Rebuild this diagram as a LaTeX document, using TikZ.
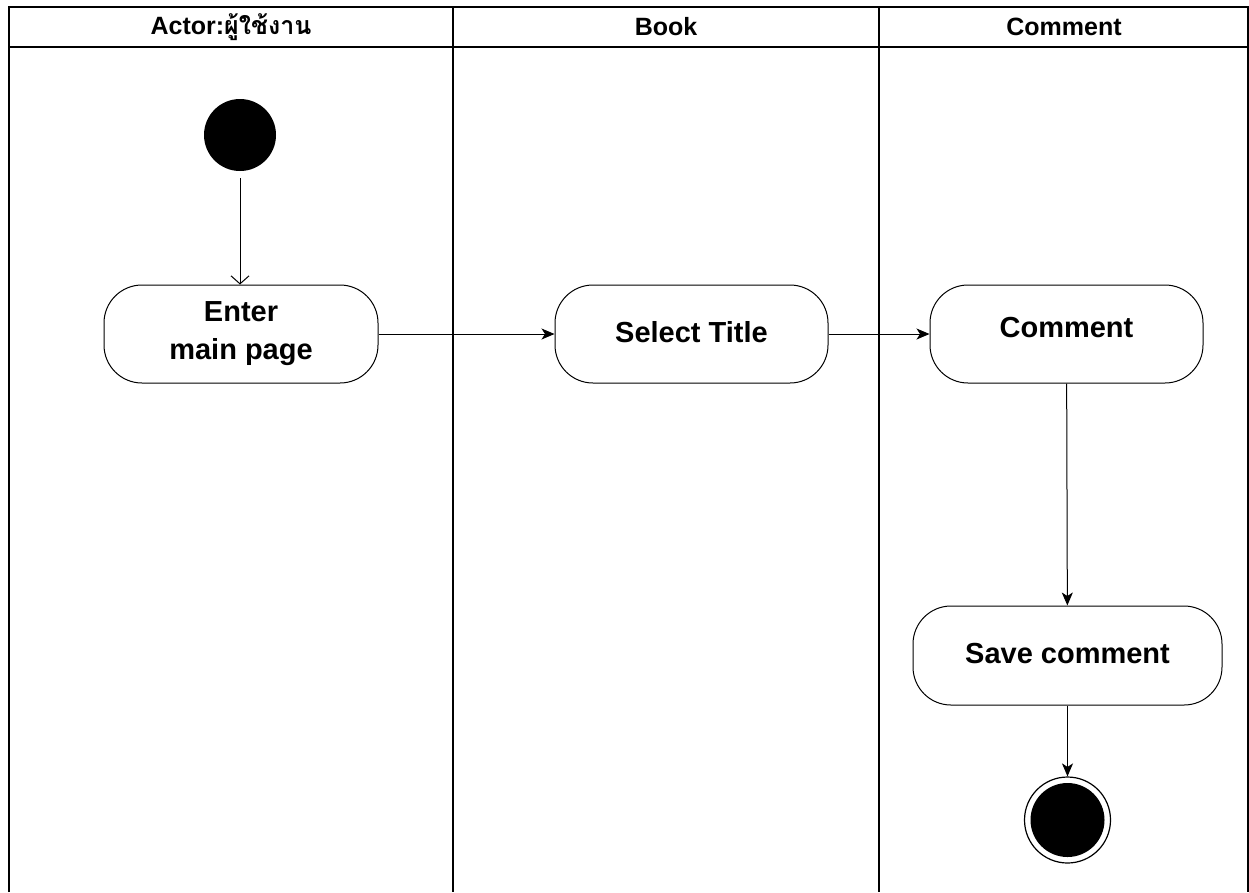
\documentclass[tikz,border=0pt]{standalone}
\usepackage{fontspec}
\setmainfont{Liberation Sans}
\newfontfamily\thaifont[Script=Thai]{Loma}
\usetikzlibrary{arrows.meta}
\tikzset{
  lane/.style={line width=1.3pt},
  headtext/.style={font=\fontsize{25}{30}\selectfont\bfseries, inner sep=0pt},
  activity/.style={draw, line width=1pt, rounded corners=38pt, minimum height=98pt,
    font=\fontsize{29}{38}\selectfont\bfseries, align=center, inner sep=0pt},
  startstate/.style={circle, fill=black, minimum size=72pt, inner sep=0pt},
  endring/.style={circle, draw, line width=1.2pt, minimum size=86pt, inner sep=0pt},
  endcore/.style={circle, fill=black, minimum size=74pt, inner sep=0pt},
  flow/.style={line width=1pt, -{Stealth[length=13pt,width=11pt,inset=3.5pt]}},
  openflow/.style={line width=1pt, -{Straight Barb[length=8pt,width=18pt]}},
  x=1pt, y=1pt
}
\begin{document}
\begin{tikzpicture}
\useasboundingbox (0,0) rectangle (1249,-892);
% swimlane frame
\draw[lane] (9,-892) -- (9,-7) -- (1248,-7) -- (1248,-892);
\draw[lane] (9,-47) -- (1248,-47);
\draw[lane] (453,-7) -- (453,-892);
\draw[lane] (879,-7) -- (879,-892);
% lane headers
\node[headtext] (hactor) at (231,-27) {Actor:{\thaifont ผู้ใช้งาน}};
\node[headtext] (hbook) at (666,-27) {Book};
\node[headtext] (hcomment) at (1064,-27) {Comment};
% states and activities
\node[startstate] (start) at (240,-135) {};
\node[activity, minimum width=274pt] (enter) at (241,-334) {Enter\\main page};
\node[activity, minimum width=273pt] (select) at (691.5,-334) {\raisebox{5pt}{Select Title}};
\node[activity, minimum width=273pt] (comment) at (1066.5,-334) {\raisebox{13pt}{Comment}};
\node[activity, minimum width=309pt, minimum height=99pt] (save) at (1067.5,-655.5) {\raisebox{4pt}{Save comment}};
\node[endring] (endr) at (1067.5,-820) {};
\node[endcore] (endc) at (1067.5,-820) {};
% transitions
\draw[openflow] (start.south) ++(0,-7) coordinate (s0) (s0) -- (enter.north -| start);
\draw[flow] (enter) -- (select);
\draw[flow] (select) -- (comment);
\draw[flow] (comment) -- (save);
\draw[flow] (save) -- (endr);
\end{tikzpicture}
\end{document}
